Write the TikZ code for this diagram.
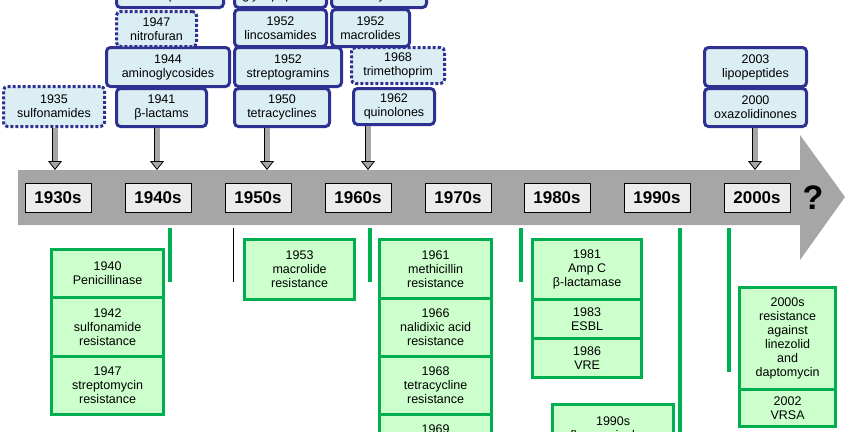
\documentclass[tikz,border=0pt]{standalone}
\usepackage{fontspec}
\setmainfont{Liberation Sans}
\usetikzlibrary{arrows.meta}
\definecolor{boxblue}{HTML}{2E3192}
\definecolor{fillblue}{HTML}{DAEEF3}
\definecolor{boxgreen}{HTML}{00B050}
\definecolor{fillgreen}{HTML}{CCFFCC}
\tikzset{
  drug/.style={draw=boxblue, fill=fillblue, line width=3pt, rounded corners=4pt,
    anchor=north west, align=center, inner sep=0pt, font=\fontsize{12.5}{14}\selectfont},
  drugdot/.style={drug, dotted, line width=3pt},
  resist/.style={draw=boxgreen, fill=fillgreen, line width=3.2pt, anchor=north west,
    align=center, inner sep=0pt, font=\fontsize{12.5}{14}\selectfont},
  decade/.style={draw=black, fill=gray!15, line width=1pt, minimum width=66pt,
    minimum height=29pt, font=\fontsize{17}{18}\bfseries\selectfont},
  intro/.style={draw=black, double=gray!70, double distance=5pt, line width=0.8pt,
    -{Triangle[length=9pt,width=14pt,fill=gray!70]}},
  resline/.style={draw=boxgreen, line width=3.2pt}
}
\newcommand\drugbox[6]{\node[#1, minimum width=#4pt, minimum height=#5pt] (#2) at (#3) {#6};}
\begin{document}
\begin{tikzpicture}[x=1pt,y=-1pt]
  \useasboundingbox (0,0) rectangle (845,431);
  \clip (0,0) rectangle (845,431);
  % the time line
  \fill[gray!70] (18,170) -- (800,170) -- (800,135) -- (845,197) -- (800,260)
    -- (800,225) -- (18,225) -- cycle;
  \foreach \d/\x in {1930s/58, 1940s/158, 1950s/258, 1960s/358, 1970s/458,
                     1980s/557, 1990s/657, 2000s/757}
    \node[decade] (d\d) at (\x,198) {\d};
  \node[font=\fontsize{34}{34}\bfseries\selectfont] (q) at (813,198) {?};
  % antibiotics introduced
  \drugbox{drugdot}{sulfa}{2,85}{101}{40}{1935\\sulfonamides}
  \drugbox{drug}{blact}{115,87}{90}{38}{1941\\β-lactams}
  \drugbox{drug}{amino}{105,46}{123}{39}{1944\\aminoglycosides}
  \drugbox{drugdot}{nitro}{115,10}{80}{35}{1947\\nitrofuran}
  \drugbox{drug}{chlor}{115,-30}{107}{36}{1949\\chloramphenicol}
  \drugbox{drug}{tetra}{233,87}{95}{38}{1950\\tetracyclines}
  \drugbox{drug}{strep}{233,46}{107}{39}{1952\\streptogramins}
  \drugbox{drug}{linco}{233,8}{92}{37}{1952\\lincosamides}
  \drugbox{drug}{glyco}{233,-30}{92}{36}{1956\\glycopeptides}
  \drugbox{drug}{quino}{352,87}{81}{36}{1962\\quinolones}
  \drugbox{drugdot}{trime}{350,46}{93}{36}{1968\\trimethoprim}
  \drugbox{drug}{macro}{330,8}{78}{37}{1952\\macrolides}
  \drugbox{drug}{rifam}{330,-30}{95}{36}{1957\\rifamycins}
  \drugbox{drug}{oxazo}{703,87}{102}{38}{2000\\oxazolidinones}
  \drugbox{drug}{lipop}{703,46}{102}{39}{2003\\lipopeptides}
  \draw[intro] (sulfa.south -| 55,0) -- (55,170);
  \draw[intro] (blact.south -| 157,0) -- (157,170);
  \draw[intro] (tetra.south -| 267,0) -- (267,170);
  \draw[intro] (quino.south -| 368,0) -- (368,170);
  \draw[intro] (oxazo.south -| 755,0) -- (755,170);
  % resistance markers
  \foreach \x/\y in {170/282, 370/282, 521/282, 680/440, 729/372}
    \draw[resline] (\x,228) -- (\x,\y);
  \draw[line width=1pt] (233,228) -- (233,282);
  % resistance found
  \drugbox{resist}{penic}{50,248}{112}{48}{1940\\Penicillinase}
  \drugbox{resist}{sulres}{50,296}{112}{59}{1942\\sulfonamide\\resistance}
  \drugbox{resist}{strres}{50,355}{112}{58}{1947\\streptomycin\\resistance}
  \drugbox{resist}{macres}{243,238}{110}{60}{1953\\macrolide\\resistance}
  \drugbox{resist}{methi}{378,238}{112}{59}{1961\\methicillin\\resistance}
  \drugbox{resist}{nalid}{378,297}{112}{58}{1966\\nalidixic acid\\resistance}
  \drugbox{resist}{tetres}{378,355}{112}{58}{1968\\tetracycline\\resistance}
  \drugbox{resist}{r1969}{378,413}{112}{58}{1969\\gentamicin\\resistance}
  \drugbox{resist}{ampc}{531,238}{109}{60}{1981\\Amp C\\β-lactamase}
  \drugbox{resist}{esbl}{531,298}{109}{39}{1983\\ESBL}
  \drugbox{resist}{vre}{531,337}{109}{39}{1986\\VRE}
  \drugbox{resist}{fluor}{551,403}{121}{50}{1990s\\fluoroquinolone}
  \drugbox{resist}{linez}{738,286}{96}{102}{2000s\\resistance\\against\\linezolid\\and\\daptomycin}
  \drugbox{resist}{vrsa}{738,388}{96}{37}{2002\\VRSA}
\end{tikzpicture}
\end{document}
